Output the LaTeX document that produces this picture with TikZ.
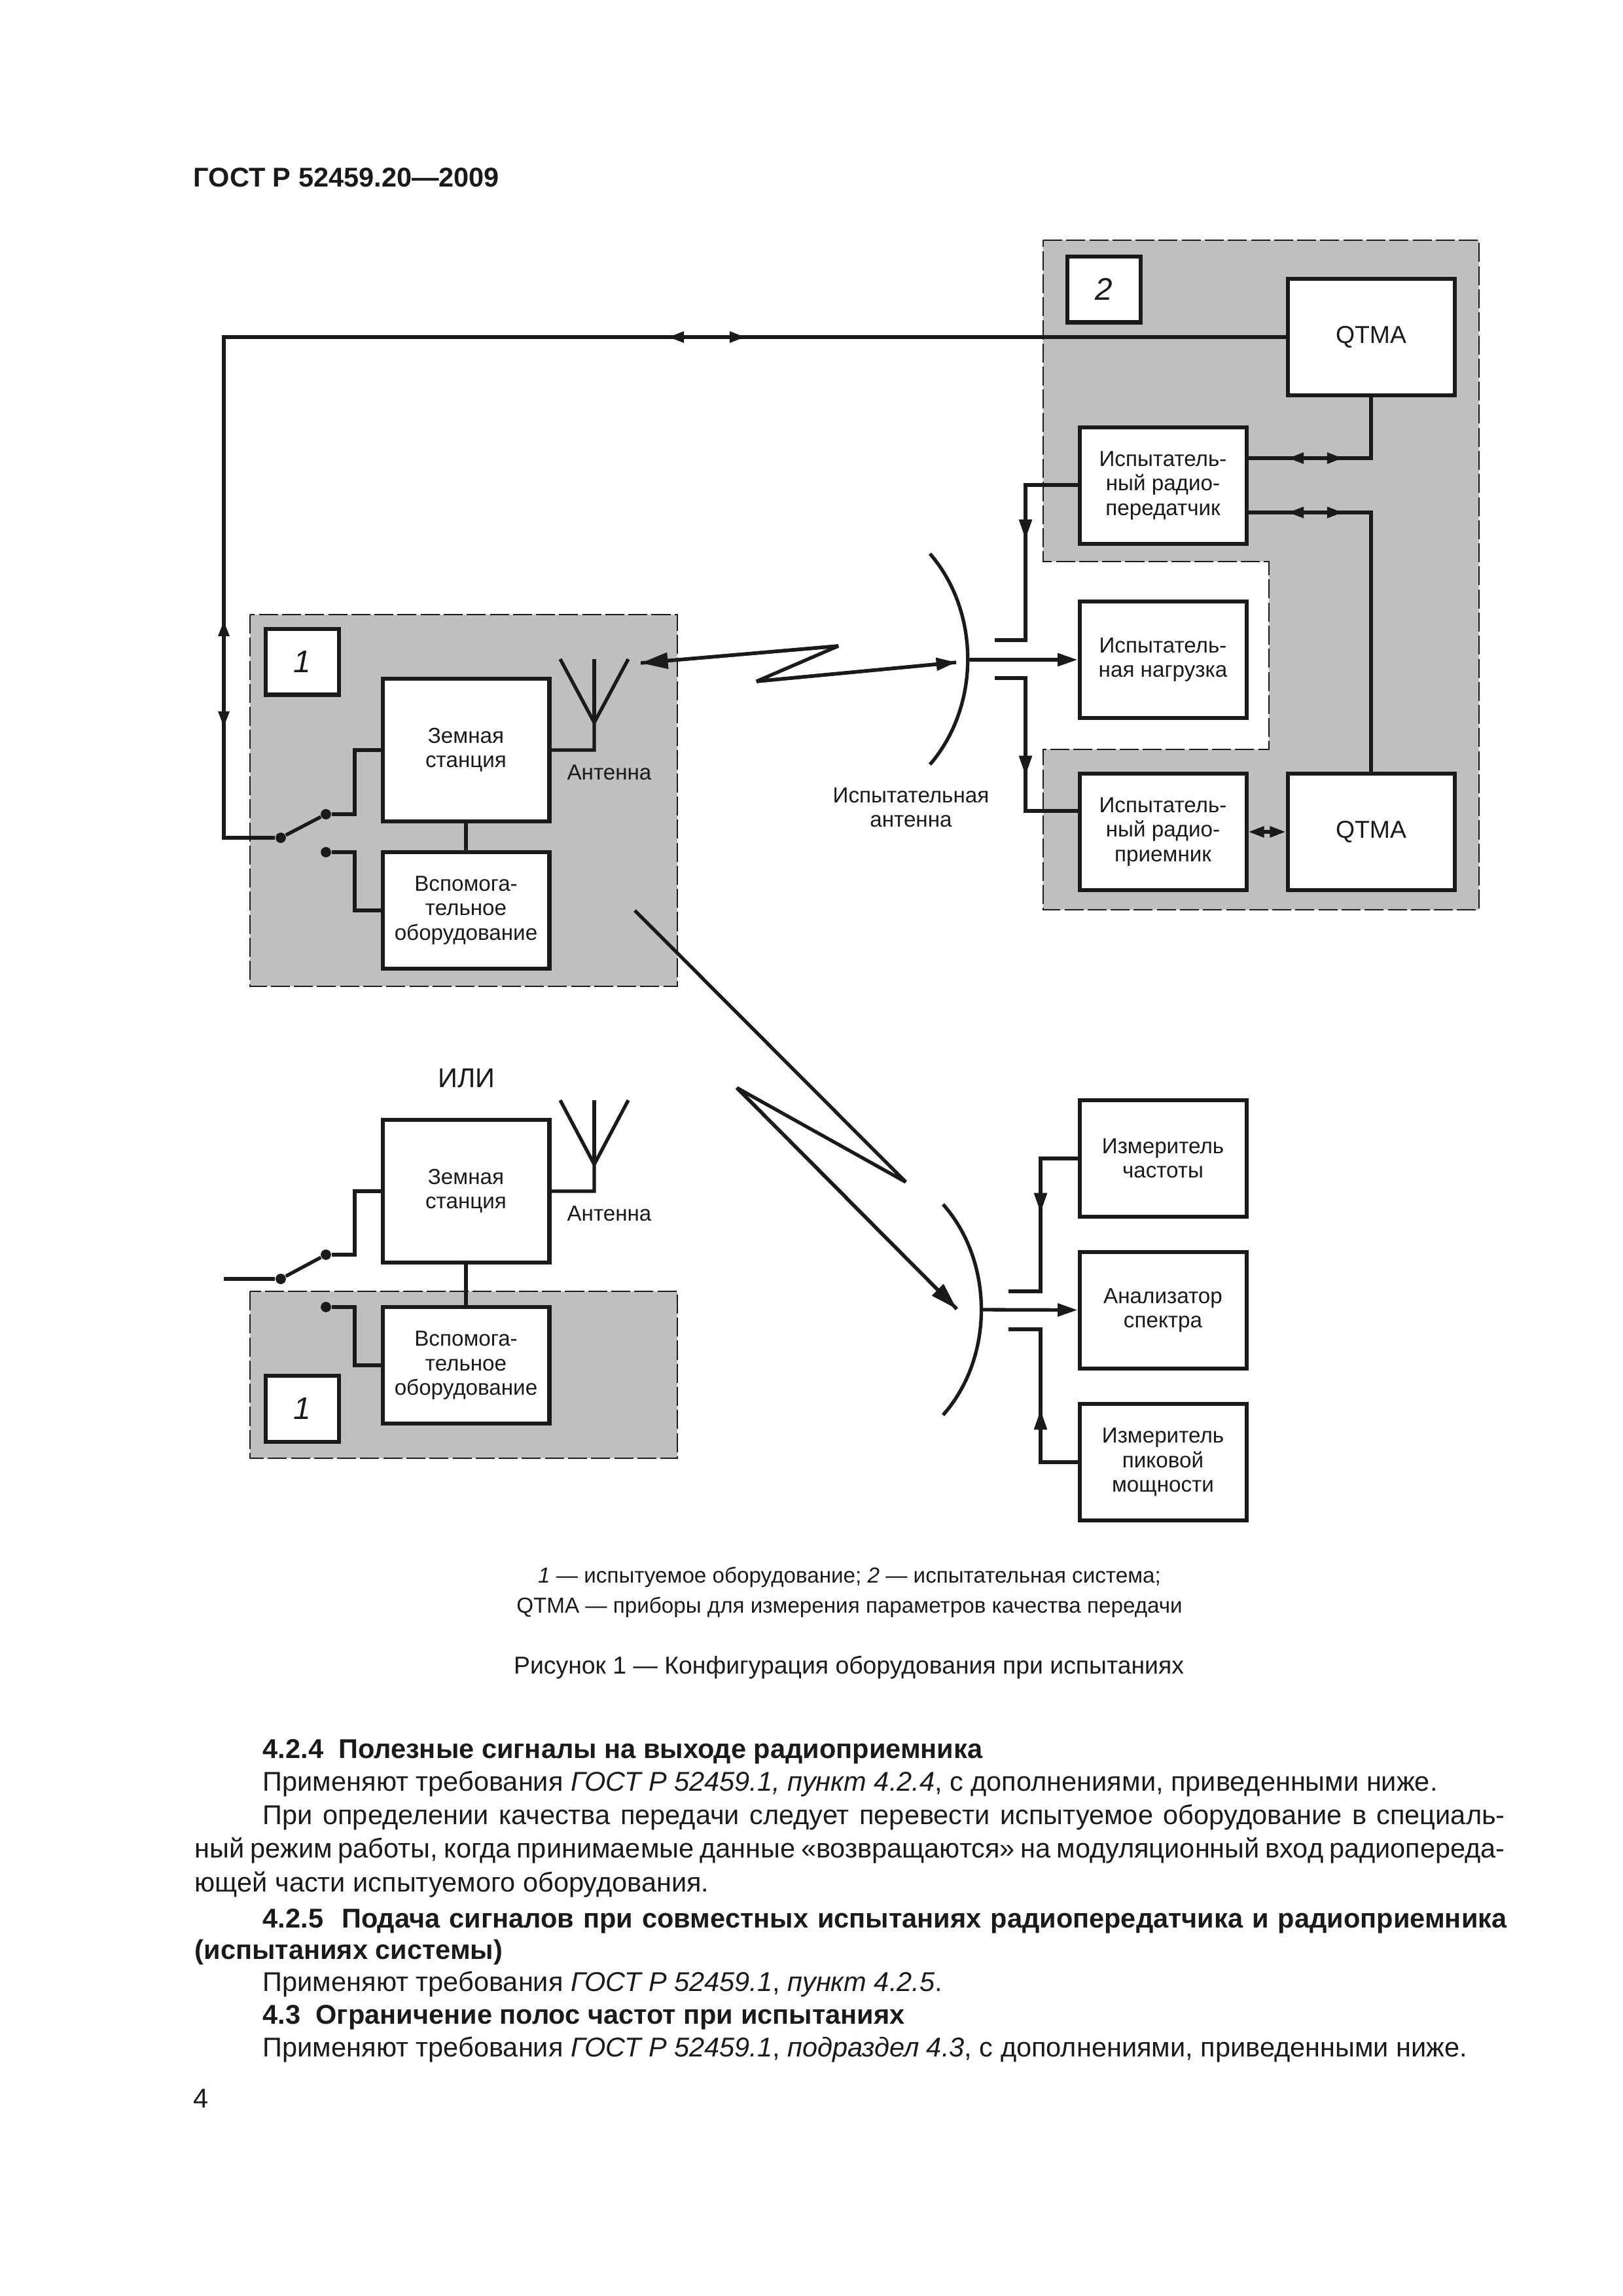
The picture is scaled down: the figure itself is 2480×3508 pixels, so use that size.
\documentclass[tikz,border=0pt]{standalone}
\usepackage{fontspec}
\setmainfont{Liberation Sans}
\usetikzlibrary{arrows.meta}
\definecolor{ink}{HTML}{1A1A1A}
\definecolor{zone}{HTML}{BFBFBF}
\tikzset{
	blockbox/.style={draw=ink,fill=white,line width=1.45pt,inner sep=0pt,align=center,text=ink,font=\fontsize{8}{9}\selectfont},
	bigblock/.style={blockbox,minimum width=21.59mm,minimum height=15.07mm},
	tallblock/.style={blockbox,minimum width=21.59mm,minimum height=18.46mm},
	qtmablock/.style={bigblock,font=\fontsize{9}{10}\selectfont},
	numblock/.style={blockbox,minimum width=9.55mm,minimum height=8.55mm,font=\fontsize{11.5}{12}\selectfont\itshape},
	zonebox/.style={draw=ink,fill=zone,line width=0.7pt,dash pattern=on 7pt off 1.5pt},
	wire/.style={draw=ink,line width=1.28pt},
	tip/.style={>={Triangle[length=5.8pt,width=3.9pt]}},
	midtip/.style={>={Triangle[length=7.3pt,width=4.6pt]}},
	bigtip/.style={>={Triangle[length=10pt,width=5.8pt]}},
	dot/.style={circle,fill=ink,inner sep=0pt,minimum size=3.8pt},
	lbl/.style={inner sep=0pt,align=center,text=ink,font=\fontsize{8}{9}\selectfont},
	bodyline/.style={anchor=base west,inner sep=0pt,text=ink,font=\fontsize{10}{12}\selectfont},
	headline/.style={bodyline,font=\fontsize{10}{12}\selectfont\bfseries},
	capline/.style={anchor=base,inner sep=0pt,text=ink,font=\fontsize{8}{10}\selectfont}
}
\begin{document}
\begin{tikzpicture}[x=0.08467mm,y=-0.08467mm]
	\useasboundingbox (0,0) rectangle (2480,3508);

	\draw[zonebox] (382,939) rectangle (1035,1507);
	\draw[zonebox] (382,1973) rectangle (1035,2228);
	\draw[zonebox] (1594,367) -- (2260,367) -- (2260,1390) -- (1594,1390) -- (1594,1145) -- (1939,1145) -- (1939,858) -- (1594,858) -- cycle;

	\draw (462,1011) node[numblock] (num1) {1};
	\draw (462,2152) node[numblock] (num3) {1};
	\draw (1687,442) node[numblock] (num2) {2};

	\draw (712,1146) node[tallblock] (zem1) {Земная\\станция};
	\draw (712,1391) node[bigblock] (aux1) {Вспомога-\\тельное\\оборудование};
	\draw (712,1820) node[tallblock] (zem2) {Земная\\станция};
	\draw (712,2086) node[bigblock] (aux2) {Вспомога-\\тельное\\оборудование};

	\draw (2095,515) node[qtmablock] (qtma1) {QTMA};
	\draw (2095,1271) node[qtmablock] (qtma2) {QTMA};
	\draw (1777,742) node[bigblock] (trans) {Испытатель-\\ный радио-\\передатчик};
	\draw (1777,1008) node[bigblock] (load) {Испытатель-\\ная нагрузка};
	\draw (1777,1271) node[bigblock] (recv) {Испытатель-\\ный радио-\\приемник};

	\draw (1777,1770) node[bigblock] (freq) {Измеритель\\частоты};
	\draw (1777,2002) node[bigblock] (spec) {Анализатор\\спектра};
	\draw (1777,2234) node[bigblock] (peak) {Измеритель\\пиковой\\мощности};

	\node[lbl] (ant1) at (931,1180) {Антенна};
	\node[lbl] (ant2) at (931,1854) {Антенна};
	\node[lbl] (testant) at (1392,1234) {Испытательная\\антенна};
	\node[lbl,font=\fontsize{10}{11}\selectfont] (orlbl) at (713,1647) {ИЛИ};

	% switches
	\node[dot] (piv1) at (429,1280) {};
	\node[dot] (upd1) at (498,1244) {};
	\node[dot] (lod1) at (498,1302) {};
	\node[dot] (piv2) at (429,1954) {};
	\node[dot] (upd2) at (498,1917) {};
	\node[dot] (lod2) at (498,1997) {};
	\coordinate (bus1) at (542,1200);
	\coordinate (bus2) at (542,1350);
	\coordinate (bus3) at (542,1870);
	\coordinate (bus4) at (542,2040);
	\coordinate (free2) at (342,1954);
	\coordinate (corner) at (342,515);

	\draw[wire] (piv1) -- (upd1);
	\draw[wire] (piv2) -- (upd2);
	\draw[wire] (free2) -- (piv2);
	\draw[wire] (zem1.west) -| (bus1) |- (upd1);
	\draw[wire] (aux1.west) -| (bus2) |- (lod1);
	\draw[wire] (zem2.west) -| (bus3) |- (upd2);
	\draw[wire] (aux2.west) -| (bus4) |- (lod2);
	\draw[wire] (zem1) -- (aux1);
	\draw[wire] (zem2) -- (aux2);
	\draw[wire] (qtma1.west) -- (corner) |- (piv1);

	% bidirectional marks
	\coordinate (top1) at (1021,515);
	\coordinate (top2) at (1139,515);
	\coordinate (sid1) at (342,948);
	\coordinate (sid2) at (342,1111);
	\coordinate (tr1) at (1905,700);
	\coordinate (tr2) at (1905,783);
	\coordinate (tm1) at (1968,700);
	\coordinate (tm2) at (2052,700);
	\coordinate (tm3) at (1968,783);
	\coordinate (tm4) at (2052,783);
	\draw[wire,tip,<->] (top1) -- (top2);
	\draw[wire,tip,<->] (sid1) -- (sid2);
	\draw[wire,tip,<->] (tm1) -- (tm2);
	\draw[wire,tip,<->] (tm3) -- (tm4);
	\draw[wire,tip,<->] (recv) -- (qtma2);
	\draw[wire] (tr1) -| (qtma1.south);
	\draw[wire] (tr2) -| (qtma2.north);

	% antennas
	\coordinate (aj1) at (908,1104);
	\coordinate (ag1) at (856,1007);
	\coordinate (ah1) at (908,1007);
	\coordinate (ai1) at (960,1007);
	\coordinate (aj2) at (908,1779);
	\coordinate (ag2) at (856,1681);
	\coordinate (ah2) at (908,1681);
	\coordinate (ai2) at (960,1681);
	\draw[wire] (zem1.east) -| (aj1) -- (ag1);
	\draw[wire] (aj1) -- (ah1);
	\draw[wire] (aj1) -- (ai1);
	\draw[wire] (zem2.east) -| (aj2) -- (ag2);
	\draw[wire] (aj2) -- (ah2);
	\draw[wire] (aj2) -- (ai2);

	% upper dish
	\coordinate (dt1) at (1421,846);
	\coordinate (dm1) at (1479,1008);
	\coordinate (db1) at (1421,1168);
	\coordinate (st1) at (1520,978);
	\coordinate (st2) at (1520,1036);
	\coordinate (jg1) at (1567,850);
	\coordinate (jg2) at (1567,1130);
	\coordinate (ah3) at (1567,824);
	\coordinate (ah4) at (1567,1185);
	\coordinate (ah5) at (1567,780);
	\coordinate (ah6) at (1567,1140);
	\coordinate (txin) at (1650,741);
	\coordinate (rxin) at (1650,1239);
	\draw[wire] (dt1) .. controls (1498,935) and (1498,1079) .. (db1);
	\draw[wire,midtip,->] (dm1) -- (load);
	\draw[wire] (st1) -| (jg1) |- (txin);
	\draw[wire] (st2) -| (jg2) |- (rxin);
	\draw[wire,midtip,->] (ah5) -- (ah3);
	\draw[wire,midtip,->] (ah6) -- (ah4);

	% lower dish
	\coordinate (dt2) at (1441,1840);
	\coordinate (dm2) at (1499,2001);
	\coordinate (db2) at (1441,2162);
	\coordinate (st3) at (1541,1973);
	\coordinate (st4) at (1541,2031);
	\coordinate (jg3) at (1590,1900);
	\coordinate (jg4) at (1590,2100);
	\coordinate (ah7) at (1590,1853);
	\coordinate (ah8) at (1590,2154);
	\coordinate (ah9) at (1590,1800);
	\coordinate (ah0) at (1590,2200);
	\draw[wire] (dt2) .. controls (1519,1928) and (1519,2074) .. (db2);
	\draw[wire,midtip,->] (dm2) -- (spec);
	\draw[wire] (st3) -| (jg3) |- (freq);
	\draw[wire] (st4) -| (jg4) |- (peak);
	\draw[wire,midtip,->] (ah9) -- (ah7);
	\draw[wire,midtip,->] (ah0) -- (ah8);

	% radio links
	\coordinate (lk1) at (979,1013);
	\coordinate (lk2) at (1281,987);
	\coordinate (lk3) at (1156,1041);
	\coordinate (lk4) at (1461,1012);
	\coordinate (lk5) at (970,1391);
	\coordinate (lk6) at (1384,1806);
	\coordinate (lk7) at (1126,1662);
	\coordinate (lk8) at (1462,2000);
	\draw[wire,line join=bevel] (lk1) -- (lk2) -- (lk3) -- (lk4);
	\draw[wire,bigtip,->] (lk2) -- (lk1);
	\draw[wire,midtip,->] (lk3) -- (lk4);
	\draw[wire,line join=bevel] (lk5) -- (lk6) -- (lk7) -- (lk8);
	\draw[wire,bigtip,->] (lk7) -- (lk8);

	% page text
	\node[headline] (head) at (295,285) {ГОСТ Р 52459.20—2009};
	\node[capline] (cap1) at (1298,2418) {{\itshape 1} — испытуемое оборудование; {\itshape 2} — испытательная система;};
	\node[capline] (cap2) at (1298,2464) {QTMA — приборы для измерения параметров качества передачи};
	\node[capline,font=\fontsize{9}{10}\selectfont] (cap3) at (1297,2557) {Рисунок 1 — Конфигурация оборудования при испытаниях};

	\node[headline] (ln1) at (401,2686) {4.2.4\ \ Полезные сигналы на выходе радиоприемника};
	\node[bodyline] (ln2) at (401,2736) {Применяют требования {\itshape ГОСТ Р 52459.1, пункт 4.2.4}, с дополнениями, приведенными ниже.};
	\node[bodyline] (ln3) at (401,2787) {\makebox[160.7mm][s]{При определении качества передачи следует перевести испытуемое оборудование в специаль-}};
	\node[bodyline] (ln4) at (297,2838) {\makebox[169.5mm][s]{ный режим работы, когда принимаемые данные «возвращаются» на модуляционный вход радиопереда-}};
	\node[bodyline] (ln5) at (297,2890) {ющей части испытуемого оборудования.};
	\node[headline] (ln6) at (401,2945) {\makebox[160.9mm][s]{4.2.5\ \ Подача сигналов при совместных испытаниях радиопередатчика и радиоприемника}};
	\node[headline] (ln7) at (297,2993) {(испытаниях системы)};
	\node[bodyline] (ln8) at (401,3042) {Применяют требования {\itshape ГОСТ Р 52459.1}, {\itshape пункт 4.2.5}.};
	\node[headline] (ln9) at (401,3092) {4.3\ \ Ограничение полос частот при испытаниях};
	\node[bodyline] (ln10) at (401,3142) {Применяют требования {\itshape ГОСТ Р 52459.1}, {\itshape подраздел 4.3}, с дополнениями, приведенными ниже.};
	\node[bodyline] (ln11) at (295,3220) {4};
\end{tikzpicture}
\end{document}
